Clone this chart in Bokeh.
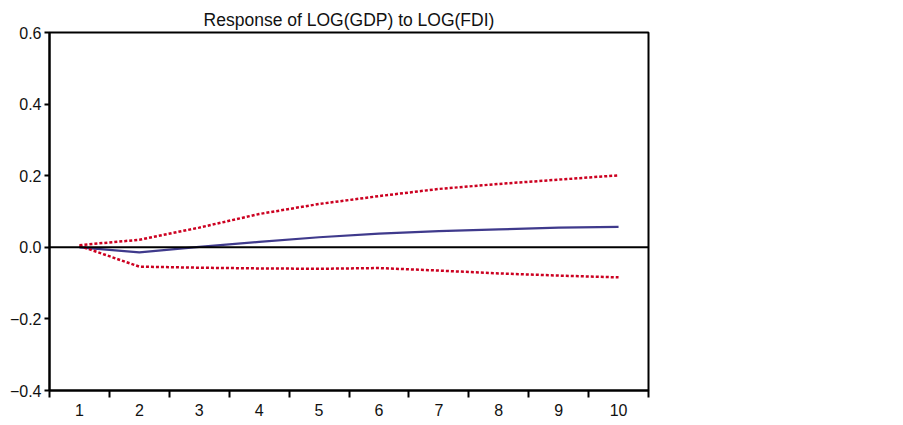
from bokeh.plotting import figure
from bokeh.models import FixedTicker, Span, ColumnDataSource
from bokeh.embed import file_html
from bokeh.resources import INLINE

periods = [1, 2, 3, 4, 5, 6, 7, 8, 9, 10]
response = [0.000, -0.014, 0.001, 0.015, 0.028, 0.038, 0.045, 0.050, 0.055, 0.057]
upper = [0.006, 0.021, 0.055, 0.093, 0.121, 0.143, 0.163, 0.177, 0.189, 0.201]
lower = [0.004, -0.054, -0.057, -0.059, -0.060, -0.058, -0.065, -0.073, -0.079, -0.084]
y_ticks = [-0.4, -0.2, 0.0, 0.2, 0.4, 0.6]
y_labels = ["\u22120.4", "\u22120.2", "0.0", "0.2", "0.4", "0.6"]
x_bounds = [0.5 + i for i in range(11)]

src = ColumnDataSource(dict(x=periods, r=response, u=upper, l=lower))

p = figure(width=900, height=423, x_range=(0.5, 10.5), y_range=(-0.4, 0.6),
           output_backend="svg", toolbar_location=None,
           min_border_left=49, min_border_right=252, min_border_top=32, min_border_bottom=33,
           title="Response of LOG(GDP) to LOG(FDI)")
p.title.align = "center"
p.title.vertical_align = "top"
p.title.text_font = "Liberation Sans"
p.title.text_font_size = "17.5px"
p.title.text_font_style = "normal"
p.title.text_color = "#111111"
p.title.standoff = 2

p.xgrid.visible = False
p.ygrid.visible = False
p.outline_line_color = "black"
p.outline_line_width = 2
p.outline_line_alpha = 1
p.background_fill_color = "white"
p.border_fill_color = "white"

p.xaxis.ticker = FixedTicker(ticks=periods, minor_ticks=x_bounds)
p.xaxis.major_tick_out = 0
p.xaxis.major_tick_in = 0
p.xaxis.minor_tick_out = 7
p.xaxis.minor_tick_in = 0
p.xaxis.minor_tick_line_color = "black"
p.xaxis.minor_tick_line_width = 2
p.xaxis.major_label_standoff = 6
p.xaxis.major_label_overrides = {i: str(i) for i in periods}

p.yaxis.ticker = FixedTicker(ticks=y_ticks, minor_ticks=[])
p.yaxis.major_tick_out = 5
p.yaxis.major_tick_in = 0
p.yaxis.major_tick_line_width = 2
p.yaxis.major_label_standoff = 3
p.yaxis.major_label_overrides = {t: lab for t, lab in zip(y_ticks, y_labels)}

for ax in (p.xaxis, p.yaxis):
    ax.axis_line_color = "black"
    ax.axis_line_width = 2
    ax.major_tick_line_color = "black"
    ax.major_label_text_font = "Liberation Sans"
    ax.major_label_text_font_size = "16px"
    ax.major_label_text_color = "#111111"

p.add_layout(Span(location=0, dimension="width", line_color="black", line_width=2))

p.line("x", "r", source=src, line_color="#3f3a8c", line_width=2.2)
p.line("x", "u", source=src, line_color="#cc0020", line_width=2.5, line_dash="3 2")
p.line("x", "l", source=src, line_color="#cc0020", line_width=2.5, line_dash="3 2")

open("out.html", "w").write(file_html(p, INLINE))
